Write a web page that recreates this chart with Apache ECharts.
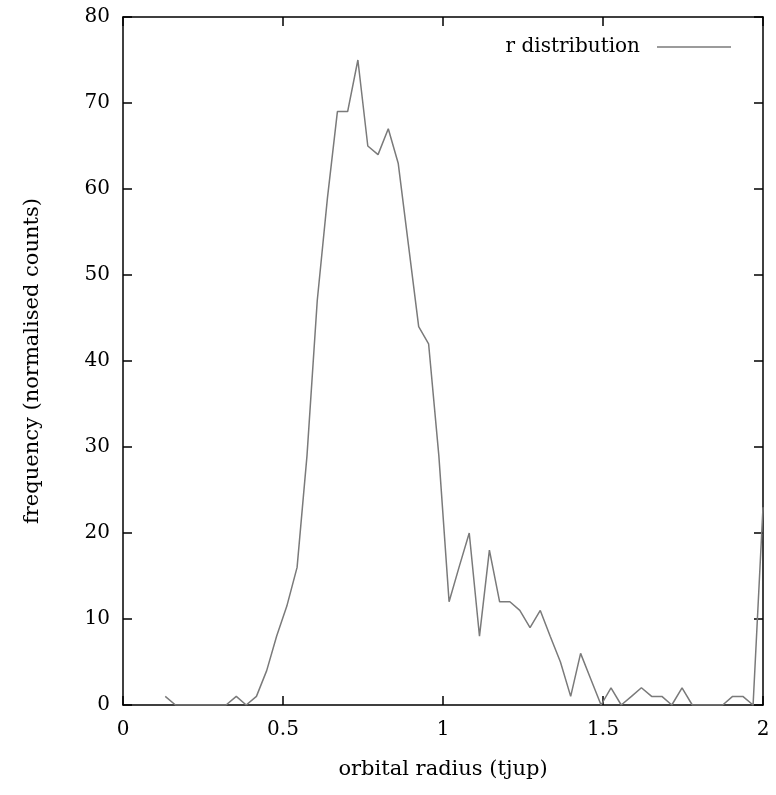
<!DOCTYPE html>
<html>
<head>
<meta charset="utf-8">
<script src="https://cdn.jsdelivr.net/npm/echarts@6/dist/echarts.min.js"></script>
<style>html,body{margin:0;padding:0;background:#fff;}#c{width:776px;height:795px;}</style>
</head>
<body>
<div id="c"></div>
<script>
// orbital radius (tjup) at each bin
const radius = [0.132,0.164,0.195,0.227,0.259,0.290,0.322,0.354,0.385,0.417,
  0.449,0.480,0.512,0.544,0.575,0.607,0.639,0.670,0.702,0.734,
  0.765,0.797,0.829,0.860,0.892,0.924,0.955,0.987,1.019,1.050,
  1.082,1.114,1.145,1.177,1.209,1.240,1.272,1.304,1.335,1.367,
  1.399,1.430,1.462,1.494,1.525,1.557,1.589,1.620,1.652,1.684,
  1.715,1.747,1.779,1.810,1.842,1.874,1.905,1.937,1.969,2.000];
// frequency (normalised counts)
const freq = [1,0,0,0,0,0,0,1,0,1,
  4,8,11.5,16,29,47,59,69,69,75,
  65,64,67,63,53.5,44,42,29,12,16,
  20,8,18,12,12,11,9,11,8,5,
  1,6,3,0,2,0,1,2,1,1,
  0,2,0,0,0,0,1,1,0,23];
const xTicks = [0,0.5,1,1.5,2];
const yTicks = [0,10,20,30,40,50,60,70,80];
const seriesName = 'r distribution';

const font = 'DejaVu Serif';
const lineColor = '#7a7a7a';
const chart = echarts.init(document.getElementById('c'), null, {renderer:'canvas'});
const axisLine = {show:true, onZero:false, lineStyle:{color:'#000', width:1.5}};
const tick = {show:true, inside:true, length:9, lineStyle:{color:'#000', width:1.5}};
chart.setOption({
  backgroundColor:'#fff',
  animation:false,
  grid:{left:123, right:13, top:17, bottom:90, containLabel:false},
  legend:{
    show:true, right:40, top:32, align:'right', itemWidth:74, itemHeight:1.5,
    textStyle:{fontFamily:font, fontSize:20, color:'#000', padding:[0,12,0,0]},
    data:[{name:seriesName, icon:'rect', itemStyle:{color:lineColor}}]
  },
  xAxis:[{
    type:'value', min:xTicks[0], max:xTicks[xTicks.length-1], interval:0.5,
    name:'orbital radius (tjup)', nameLocation:'middle', nameGap:54,
    nameTextStyle:{fontFamily:font, fontSize:21, color:'#000'},
    axisLine:axisLine, axisTick:tick, splitLine:{show:false},
    axisLabel:{fontFamily:font, fontSize:20, color:'#000', margin:15}
  },{
    type:'value', position:'top', min:0, max:2, interval:0.5,
    axisLine:axisLine, axisTick:tick, axisLabel:{show:false}, splitLine:{show:false}
  }],
  yAxis:[{
    type:'value', min:yTicks[0], max:yTicks[yTicks.length-1], interval:10,
    name:'frequency (normalised counts)', nameLocation:'middle', nameGap:80,
    nameTextStyle:{fontFamily:font, fontSize:21, color:'#000'},
    axisLine:axisLine, axisTick:tick, splitLine:{show:false},
    axisLabel:{fontFamily:font, fontSize:20, color:'#000', margin:13}
  },{
    type:'value', position:'right', min:0, max:80, interval:10,
    axisLine:axisLine, axisTick:tick, axisLabel:{show:false}, splitLine:{show:false}
  }],
  series:[{
    name:seriesName, type:'line', symbol:'none', clip:true,
    data: radius.map((r,i)=>[r, freq[i]]),
    lineStyle:{color:lineColor, width:1.5},
    itemStyle:{color:lineColor}
  }]
});
</script>
</body>
</html>
